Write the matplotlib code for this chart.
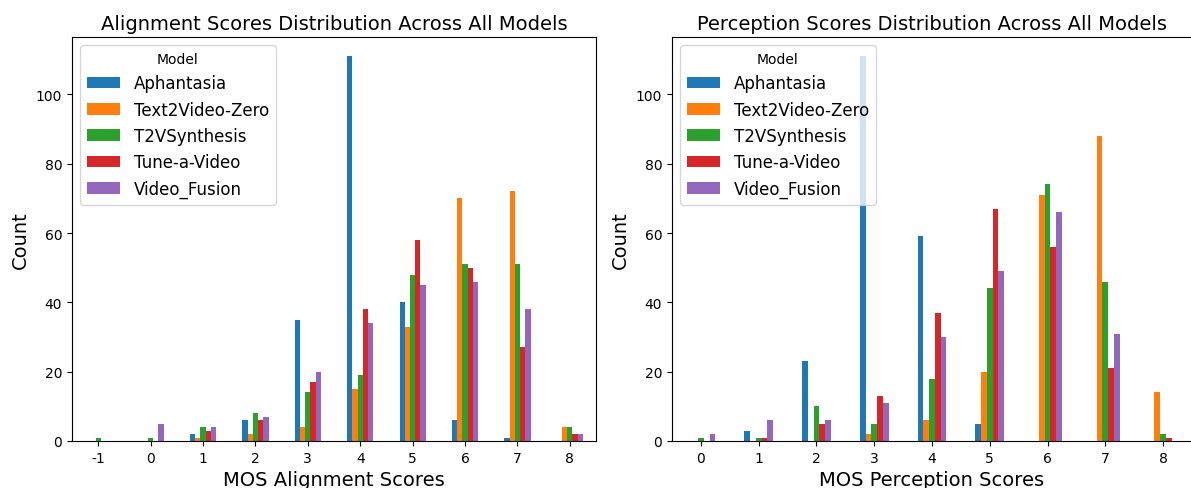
import pandas as pd
import numpy as np
import matplotlib.pyplot as plt

models = ['Aphantasia', 'Text2Video-Zero', 'T2VSynthesis', 'Tune-a-Video', 'Video_Fusion']

# Alignment score counts (scores -1..8)
align_scores = [-1, 0, 1, 2, 3, 4, 5, 6, 7, 8]
align_aphantasia = [0, 0, 2, 6, 35, 111, 40, 6, 1, 0]
align_t2vzero = [0, 0, 1, 2, 4, 15, 33, 70, 72, 4]
align_t2vsyn = [1, 1, 4, 8, 14, 19, 48, 51, 51, 4]
align_tune = [0, 0, 3, 6, 17, 38, 58, 50, 27, 2]
align_fusion = [0, 5, 4, 7, 20, 34, 45, 46, 38, 2]

# Perception score counts (scores 0..8)
perc_scores = [0, 1, 2, 3, 4, 5, 6, 7, 8]
perc_aphantasia = [0, 3, 23, 111, 59, 5, 0, 0, 0]
perc_t2vzero = [0, 0, 0, 2, 6, 20, 71, 88, 14]
perc_t2vsyn = [1, 1, 10, 5, 18, 44, 74, 46, 2]
perc_tune = [0, 1, 5, 13, 37, 67, 56, 21, 1]
perc_fusion = [2, 6, 6, 11, 30, 49, 66, 31, 0]

df_align = pd.DataFrame(dict(zip(models, [align_aphantasia, align_t2vzero, align_t2vsyn,
                                          align_tune, align_fusion])), index=align_scores)
df_perc = pd.DataFrame(dict(zip(models, [perc_aphantasia, perc_t2vzero, perc_t2vsyn,
                                         perc_tune, perc_fusion])), index=perc_scores)

W, H = 1191, 489
fig = plt.figure(figsize=(W / 100, H / 100), dpi=100)
ax1 = fig.add_axes([72 / W, 47 / H, 524 / W, 404 / H])
ax2 = fig.add_axes([672 / W, 47 / H, 520 / W, 404 / H])

df_align.plot(kind='bar', ax=ax1, rot=0)
ax1.set_title('Alignment Scores Distribution Across All Models', fontsize=14)
ax1.set_xlabel('MOS Alignment Scores', fontsize=14)
ax1.set_ylabel('Count', fontsize=14)
ax1.legend(title='Model', fontsize=12, loc='upper left')

df_perc.plot(kind='bar', ax=ax2, rot=0)
ax2.set_title('Perception Scores Distribution Across All Models', fontsize=14)
ax2.set_xlabel('MOS Perception Scores', fontsize=14)
ax2.set_ylabel('Count', fontsize=14)
ax2.legend(title='Model', fontsize=12, loc='upper left')

plt.savefig('out.png')
